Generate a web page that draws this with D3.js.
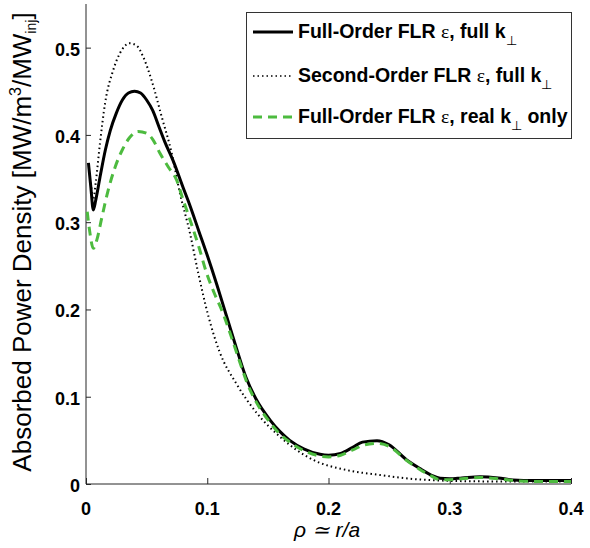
<!DOCTYPE html>
<html>
<head>
<meta charset="utf-8">
<script src="https://cdn.jsdelivr.net/npm/d3@7"></script>
<style>
body{margin:0;background:#fff;}
svg{display:block;}
text{font-family:"Liberation Sans",Arial,Helvetica,sans-serif;}
</style>
</head>
<body>
<svg id="chart" width="590" height="548"></svg>
<script>
// ---- data ----
const fullX = [0.002,0.004,0.006,0.008,0.012,0.016,0.02,0.025,0.03,0.035,0.04,0.045,0.05,0.055,0.06,0.065,0.072,0.08,0.086,0.093,0.1,0.108,0.116,0.124,0.132,0.14,0.152,0.16,0.168,0.18,0.193,0.2,0.21,0.22,0.228,0.24,0.25,0.2645,0.275,0.285,0.292,0.3,0.31,0.325,0.34,0.352,0.37,0.4];
const fullY = [0.368,0.34,0.314,0.325,0.355,0.383,0.405,0.425,0.44,0.448,0.45,0.448,0.44,0.428,0.41,0.392,0.37,0.34,0.318,0.29,0.262,0.228,0.192,0.156,0.122,0.098,0.073,0.06,0.05,0.04,0.034,0.033,0.035,0.042,0.048,0.0497,0.045,0.0275,0.018,0.01,0.0065,0.006,0.007,0.0084,0.007,0.0046,0.004,0.004];

const secondX = [0.004,0.006,0.008,0.0115,0.0157,0.0225,0.0294,0.036,0.042,0.047,0.054,0.0624,0.0707,0.0775,0.0858,0.0926,0.101,0.11,0.124,0.141,0.16,0.1875,0.215,0.2425,0.27,0.292,0.33,0.4];
const secondY = [0.345,0.326,0.345,0.39,0.436,0.4745,0.497,0.505,0.502,0.49,0.463,0.421,0.379,0.333,0.287,0.2415,0.192,0.152,0.115,0.081,0.054,0.0275,0.016,0.0103,0.0057,0.004,0.003,0.003];

const realX = [0.001,0.003,0.006,0.009,0.013,0.018,0.024,0.03,0.036,0.043,0.05,0.055,0.061,0.068,0.0748,0.08,0.0858,0.093,0.0995,0.106,0.113,0.12,0.128,0.1325,0.14,0.152,0.16,0.168,0.18,0.193,0.2,0.21,0.22,0.23,0.24,0.25,0.2645,0.275,0.285,0.292,0.3,0.31,0.325,0.34,0.352,0.37,0.4];
const realY = [0.312,0.29,0.27,0.28,0.305,0.335,0.363,0.383,0.397,0.404,0.402,0.395,0.379,0.363,0.348,0.326,0.3026,0.272,0.2415,0.218,0.1956,0.168,0.135,0.117,0.095,0.07,0.057,0.048,0.038,0.032,0.031,0.033,0.039,0.045,0.0465,0.043,0.027,0.017,0.009,0.005,0.005,0.006,0.0075,0.006,0.004,0.003,0.003];

const xTicks = [0,0.1,0.2,0.3,0.4];
const yTicks = [0,0.1,0.2,0.3,0.4,0.5];
const xTickLabels = ["0","0.1","0.2","0.3","0.4"];
const yTickLabels = ["0","0.1","0.2","0.3","0.4","0.5"];

// ---- layout ----
const svg = d3.select("#chart");
const x = d3.scaleLinear().domain([0,0.4]).range([86,571]);
const y = d3.scaleLinear().domain([0,0.55]).range([484,4]);
const green = "#4dbb3f";

// axes lines
svg.append("line").attr("x1",86).attr("x2",86).attr("y1",y(0.55)).attr("y2",y(0)).attr("stroke","#262626").attr("stroke-width",1);
svg.append("line").attr("x1",86).attr("x2",x(0.4)).attr("y1",y(0)).attr("y2",y(0)).attr("stroke","#262626").attr("stroke-width",1);

// ticks (inward)
const xAxis = d3.axisTop(x).tickValues(xTicks).tickSize(6).tickFormat("");
svg.append("g").attr("transform",`translate(0,${y(0)})`).call(xAxis)
  .call(g=>g.select(".domain").remove())
  .call(g=>g.selectAll("line").attr("stroke","#262626"));
const yAxis = d3.axisRight(y).tickValues(yTicks).tickSize(5).tickFormat("");
svg.append("g").attr("transform",`translate(86,0)`).call(yAxis)
  .call(g=>g.select(".domain").remove())
  .call(g=>g.selectAll("line").attr("stroke","#262626"));

// tick labels
svg.selectAll(".xl").data(xTicks).enter().append("text")
  .attr("x",d=>x(d)).attr("y",515).attr("text-anchor","middle")
  .attr("font-size",18).attr("font-weight","bold").attr("fill","#000").text((d,i)=>xTickLabels[i]);
svg.selectAll(".yl").data(yTicks).enter().append("text")
  .attr("x",80).attr("y",d=>y(d)+8).attr("text-anchor","end")
  .attr("font-size",18).attr("font-weight","bold").attr("fill","#000").text((d,i)=>yTickLabels[i]);

// axis labels
const yl = svg.append("text").attr("transform","translate(31,242) rotate(-90)")
  .attr("text-anchor","middle").attr("font-size",26).attr("fill","#000");
yl.append("tspan").text("Absorbed Power Density [MW/m");
yl.append("tspan").attr("font-size",16).attr("dy",-10).text("3");
yl.append("tspan").attr("dy",10).text("/MW");
yl.append("tspan").attr("font-size",14).attr("dy",5).text("inj");
yl.append("tspan").attr("dy",-5).text("]");

svg.append("text").attr("x",327).attr("y",537).attr("text-anchor","middle")
  .attr("font-family","'Liberation Serif','DejaVu Serif',serif").attr("font-style","italic")
  .attr("font-size",21).attr("fill","#000").text("ρ ≃ r/a");

// lines
const line = d3.line().x(d=>x(d[0])).y(d=>y(d[1])).curve(d3.curveMonotoneX);
const zip = (a,b)=>a.map((v,i)=>[v,b[i]]);
svg.append("path").attr("d",line(zip(secondX,secondY))).attr("fill","none")
  .attr("stroke","#000").attr("stroke-width",2).attr("stroke-dasharray","1.5,3");
svg.append("path").attr("d",line(zip(fullX,fullY))).attr("fill","none")
  .attr("stroke","#000").attr("stroke-width",3);
svg.append("path").attr("d",line(zip(realX,realY))).attr("fill","none")
  .attr("stroke",green).attr("stroke-width",3).attr("stroke-dasharray","9,6");

// legend
const lg = svg.append("g");
lg.append("rect").attr("x",246.5).attr("y",12.5).attr("width",325).attr("height",126)
  .attr("fill","#fff").attr("stroke","#333").attr("stroke-width",1);
const entries = [
  {pre:"Full-Order FLR ", mid:", full k", post:"", stroke:"#000", w:3, dash:null},
  {pre:"Second-Order FLR ", mid:", full k", post:"", stroke:"#000", w:1.5, dash:"1.5,3"},
  {pre:"Full-Order FLR ", mid:", real k", post:" only", stroke:green, w:3, dash:"9,6"}
];
const baselines = [38,82,123];
entries.forEach((e,i)=>{
  const yb = baselines[i];
  const l = lg.append("line").attr("x1",253).attr("x2",293).attr("y1",yb-6).attr("y2",yb-6)
    .attr("stroke",e.stroke).attr("stroke-width",e.w);
  if(e.dash) l.attr("stroke-dasharray",e.dash);
  const t = lg.append("text").attr("x",298).attr("y",yb).attr("font-size",19.5).attr("font-weight","bold").attr("fill","#000");
  t.append("tspan").text(e.pre);
  t.append("tspan").attr("font-family","'Liberation Serif','DejaVu Serif',serif").attr("font-weight","normal").text("ε");
  t.append("tspan").text(e.mid);
  t.append("tspan").attr("font-size",13).attr("font-weight","normal").attr("dy",7).text("⊥");
  t.append("tspan").attr("dy",-7).text(e.post);
});
</script>
</body>
</html>
